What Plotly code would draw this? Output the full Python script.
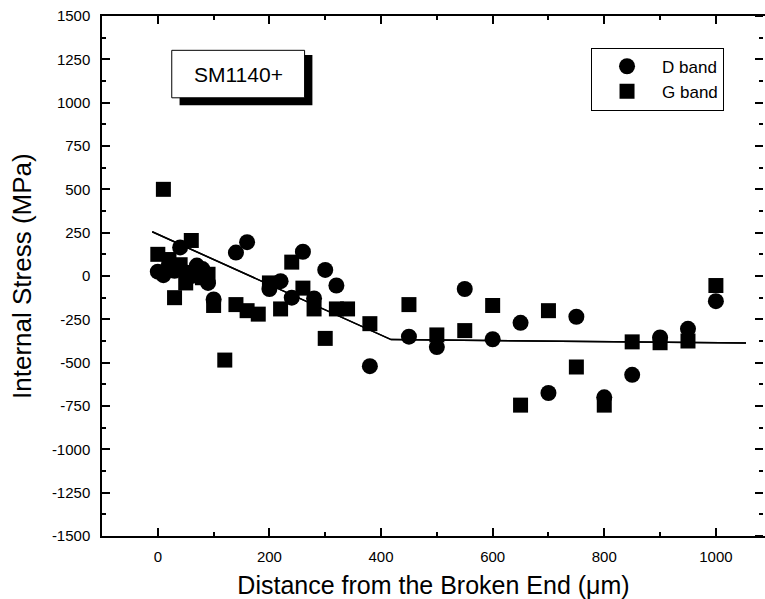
import plotly.graph_objects as go

# ---- data ----
d_x = [0, 10, 20, 30, 40, 50, 60, 70, 80, 90, 100, 140, 160, 200, 220, 240, 260, 280, 300, 320,
       380, 450, 500, 550, 600, 650, 700, 750, 800, 850, 900, 950, 1000]
d_y = [25, 5, 60, 30, 165, 20, 0, 60, 40, -40, -135, 135, 195, -75, -30, -125, 140, -130, 35, -55,
       -520, -350, -410, -75, -365, -270, -675, -235, -700, -570, -355, -305, -145]

g_x = [0, 10, 20, 30, 40, 50, 60, 70, 80, 90, 100, 120, 140, 160, 180, 200, 220, 240, 260, 280,
       300, 320, 340, 380, 450, 500, 550, 600, 650, 700, 750, 800, 850, 900, 950, 1000]
g_y = [125, 500, 95, -125, 65, -40, 205, 20, -10, 10, -170, -485, -165, -200, -220, -40, -190, 80, -70, -190,
       -360, -190, -190, -275, -165, -340, -315, -170, -745, -200, -525, -745, -380, -385, -375, -55]

fit_x = [-10, 418, 1054]
fit_y = [255, -367, -387]

x_ticks = [0, 200, 400, 600, 800, 1000]
y_ticks = [-1500, -1250, -1000, -750, -500, -250, 0, 250, 500, 750, 1000, 1250, 1500]
x_labels = [str(v) for v in x_ticks]
y_labels = [str(v) for v in y_ticks]

FONT = "Liberation Sans, Arial, sans-serif"

fig = go.Figure()
fig.add_trace(go.Scatter(x=fit_x, y=fit_y, mode="lines", line=dict(color="black", width=1.5),
                         showlegend=False, hoverinfo="skip"))
# same fit line drawn on the right-hand tick axis (identical range) so that axis is rendered
fig.add_trace(go.Scatter(x=fit_x, y=fit_y, yaxis="y2", mode="lines", line=dict(color="black", width=1.5),
                         showlegend=False, hoverinfo="skip"))
fig.add_trace(go.Scatter(x=d_x, y=d_y, mode="markers", name="D band",
                         marker=dict(symbol="circle", size=16, color="black")))
fig.add_trace(go.Scatter(x=g_x, y=g_y, mode="markers", name="G band",
                         marker=dict(symbol="square", size=15, color="black")))

# label box with drop shadow
fig.add_shape(type="rect", x0=39, x1=277, y0=1275, y1=985, xref="x", yref="y",
              fillcolor="black", line=dict(width=0), layer="above")
fig.add_shape(type="rect", x0=25, x1=263, y0=1302, y1=1028, xref="x", yref="y",
              fillcolor="white", line=dict(color="black", width=1), layer="above")
fig.add_annotation(x=144, y=1165, xref="x", yref="y", text="SM1140+", showarrow=False,
                   font=dict(family=FONT, size=21, color="black"))

# y-axis title
fig.add_annotation(x=-0.1207, y=0.5, xref="paper", yref="paper", text="Internal Stress (MPa)",
                   textangle=-90, showarrow=False, xanchor="center", yanchor="middle",
                   font=dict(family=FONT, size=26, color="black"))

tickfont = dict(family=FONT, size=15, color="black")
common = dict(tickcolor="black", tickwidth=1.5, ticklen=8,
              showgrid=False, zeroline=False, tickfont=tickfont)

fig.update_layout(
    width=765, height=599,
    margin=dict(l=102, r=0, t=16, b=63),
    plot_bgcolor="white", paper_bgcolor="white",
    xaxis=dict(range=[-100, 1088], domain=[0, 1], tickmode="array", tickvals=x_ticks, ticktext=x_labels,
               showline=True, linecolor="black", linewidth=1.5, mirror="ticks", ticks="inside",
               minor=dict(dtick=100, tick0=0, ticks="inside", ticklen=4, tickcolor="black", tickwidth=1.5),
               title=dict(text="Distance from the Broken End (μm)",
                          font=dict(family=FONT, size=25, color="black"), standoff=14),
               ticklabelstandoff=6, **common),
    yaxis=dict(range=[-1500, 1500], tickmode="array", tickvals=y_ticks, ticktext=y_labels,
               showline=True, linecolor="black", linewidth=1.5, mirror=False, ticks="inside",
               minor=dict(dtick=125, tick0=0, ticks="inside", ticklen=4, tickcolor="black", tickwidth=1.5),
               ticklabelstandoff=7, **common),
    yaxis2=dict(range=[-1500, 1500], overlaying="y", side="left", anchor="free", position=0.997,
                tickmode="array", tickvals=y_ticks, showticklabels=False, showline=False,
                ticks="outside",
                minor=dict(dtick=125, tick0=0, ticks="outside", ticklen=4, tickcolor="black", tickwidth=1.5),
                **common),
    legend=dict(x=0.7376, y=0.939, xanchor="left", yanchor="top",
                bordercolor="black", borderwidth=1, bgcolor="white",
                font=dict(family=FONT, size=17, color="black"),
                itemwidth=60),
)

fig.write_html("out.html")
